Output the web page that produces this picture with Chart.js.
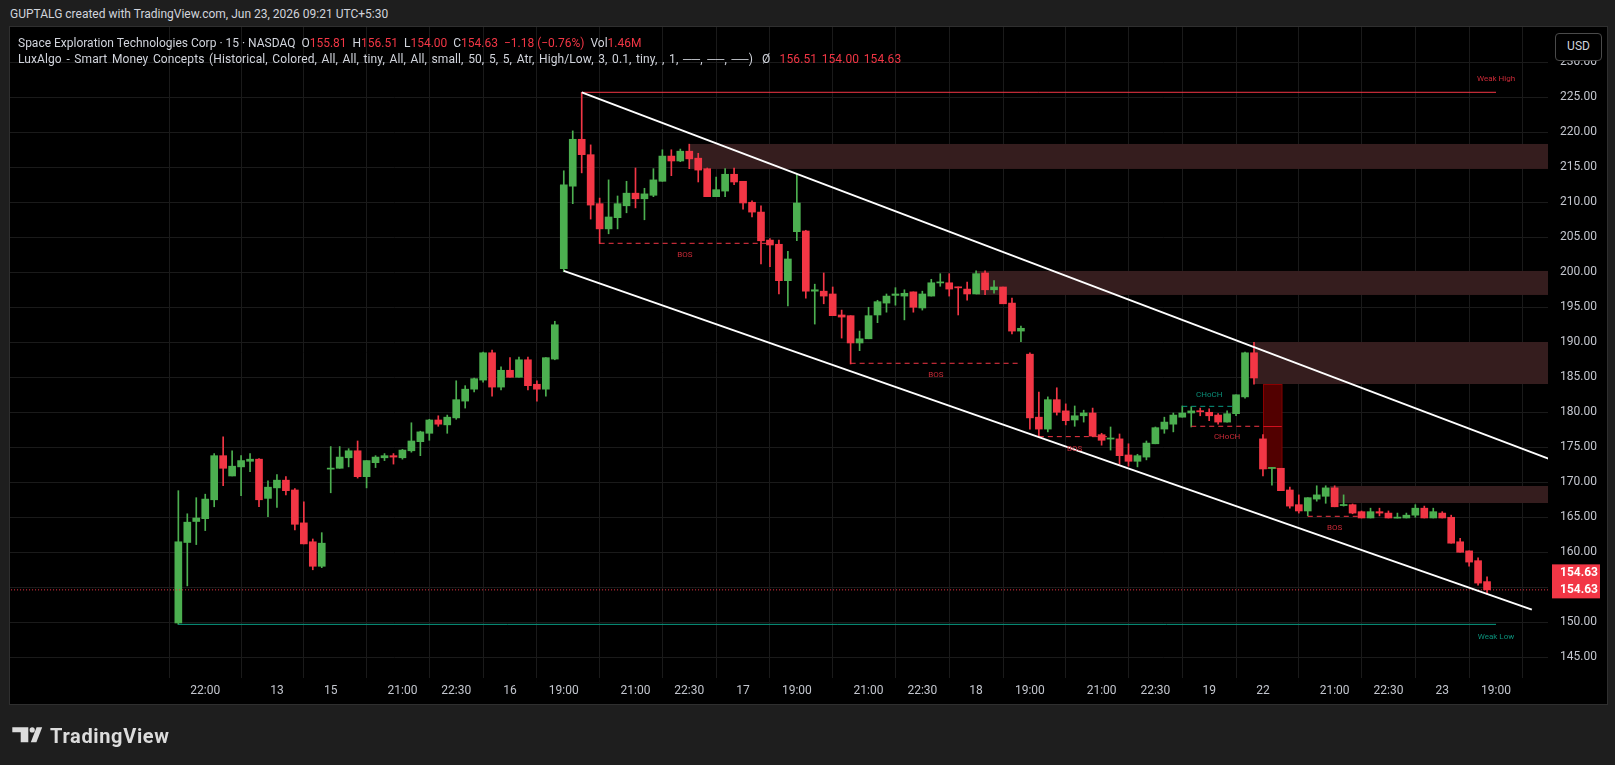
<!DOCTYPE html>
<html>
<head>
<meta charset="utf-8">
<script src="https://cdn.jsdelivr.net/npm/chart.js@4.4.1/dist/chart.umd.min.js"></script>
<style>
html, body { margin: 0; padding: 0; background: #1e1e1e; width: 1615px; height: 765px; overflow: hidden; font-family: Roboto, "Liberation Sans", sans-serif; }
#title { position: absolute; left: 10px; top: 7px; font-size: 12px; color: #d1d4dc; white-space: pre; }
#pane { position: absolute; left: 9px; top: 26px; width: 1597px; height: 677px; border: 1px solid #2f2f2f; background: #000; }
#chart { position: absolute; left: 0; top: 0; }
.legend { position: absolute; left: 8px; font-size: 12px; color: #d1d4dc; white-space: pre; }
.wide { word-spacing: 1.5px; letter-spacing: 0.1px; }
.r { color: #f23645; }
#usd { position: absolute; left: 1545px; top: 6px; width: 45px; height: 26px; border: 1px solid #4a4a4a; border-radius: 4px; background: #000; color: #d1d4dc; font-size: 12px; text-align: center; line-height: 24px; }
#logo { position: absolute; left: 0; top: 690px; }
</style>
</head>
<body>
<div id="title">GUPTALG created with TradingView.com, Jun 23, 2026 09:21 UTC+5:30</div>
<div id="pane">
  <canvas id="chart" width="1597" height="677"></canvas>
  <div class="legend" style="top:9px">Space Exploration Technologies Corp · 15 · NASDAQ  O<span class="r">155.81</span>  H<span class="r">156.51</span>  L<span class="r">154.00</span>  C<span class="r">154.63</span>  <span class="r">−1.18 (−0.76%)</span>  Vol<span class="r">1.46M</span></div>
  <div class="legend wide" style="top:25px">LuxAlgo - Smart Money Concepts (Historical, Colored, All, All, tiny, All, All, small, 50, 5, 5, Atr, High/Low, 3, 0.1, tiny, , 1, ──, ──, ──)  Ø  <span class="r">156.51</span> <span class="r">154.00</span> <span class="r">154.63</span></div>
  <div id="usd">USD</div>
</div>
<svg id="logo" width="300" height="75">
  <path d="M12.3 37.3 H28.3 V52.3 H20.7 V42.3 H12.3 Z" fill="#dcdcdc"/>
  <circle cx="32.2" cy="39.9" r="2.6" fill="#dcdcdc"/>
  <path d="M30.8 52.3 L36.6 37.3 H42.2 L36.4 52.3 Z" fill="#dcdcdc"/>
  <text x="50" y="52.5" font-family="Roboto, sans-serif" font-weight="700" font-size="20" fill="#dcdcdc" textLength="119">TradingView</text>
</svg>
<script>
// 15 min candles, index 0..146
const opens = [149.9,161.4,164.4,164.8,167.5,173.8,170.9,172.2,173.0,173.3,167.7,169.2,170.3,168.9,164.2,161.5,158.0,
  171.9,172.0,173.5,174.5,170.8,172.8,173.5,173.8,173.5,174.5,175.8,177.0,178.9,178.2,179.2,181.6,183.3,184.6,188.5,
  183.6,186.0,185.0,187.5,184.0,183.3,187.6,200.5,212.3,219.0,216.8,209.8,206.2,207.8,209.5,211.3,210.5,211.0,213.0,
  216.6,215.9,217.3,216.3,214.8,210.8,211.6,214.0,213.0,210.0,208.6,204.6,204.0,198.8,205.8,205.9,197.3,197.3,196.9,
  193.9,193.8,189.9,190.5,193.9,195.6,196.7,196.6,197.2,194.9,196.6,198.5,198.5,197.9,197.6,196.9,199.9,197.5,197.9,
  195.6,191.6,188.3,179.3,177.6,181.8,180.2,178.9,179.5,179.9,176.8,176.2,176.2,173.9,173.0,173.6,175.5,177.6,178.3,
  179.3,179.9,180.2,180.0,179.6,178.6,179.8,182.2,188.5,176.2,172.0,172.0,168.9,166.8,165.9,167.6,168.0,169.2,166.7,
  166.8,165.8,164.9,165.8,165.6,164.9,164.9,165.3,166.3,164.9,165.6,165.0,161.5,160.2,158.8,155.81];
const highs = [168.8,165.5,167.8,168.3,174.1,176.5,174.5,173.8,174.1,173.4,170.2,171.1,170.8,169.1,167.2,161.9,162.8,
  175.1,175.1,174.8,175.9,173.1,173.8,174.1,174.1,174.7,178.5,177.3,179.0,179.5,179.6,184.5,183.8,184.9,188.6,188.9,
  186.5,187.8,187.9,187.9,184.5,187.8,193.0,214.5,220.2,225.7,218.2,210.6,213.2,210.9,213.0,214.9,212.0,214.8,217.5,
  217.5,217.6,218.3,217.0,214.9,213.6,214.8,214.9,213.0,210.2,209.5,204.8,204.6,203.0,214.0,206.0,198.3,199.9,197.9,
  194.6,193.8,191.6,195.0,196.0,196.9,197.8,197.5,197.2,197.3,199.0,199.8,199.8,197.9,198.6,200.2,200.2,198.8,197.9,
  196.3,192.3,188.5,182.9,182.2,183.5,181.2,180.9,180.3,180.6,177.0,177.9,176.9,175.5,174.0,175.9,177.9,179.3,179.9,
  180.9,180.8,180.6,180.5,179.8,180.2,182.5,188.6,190.0,176.8,172.1,172.0,169.3,168.2,167.8,169.5,169.5,169.5,168.2,
  166.9,165.9,166.3,166.3,165.9,165.6,165.6,166.8,166.6,166.3,165.8,165.3,162.0,160.2,159.2,156.51];
const lows = [149.7,155.2,161.1,163.1,166.5,169.5,170.9,168.1,171.5,166.5,165.1,166.4,168.2,163.2,161.2,157.5,157.8,
  168.5,172.0,172.2,170.6,169.2,172.1,173.1,172.6,173.3,174.3,173.8,176.0,178.0,177.0,179.0,180.6,182.9,184.3,182.3,
  183.2,185.0,185.0,183.2,181.6,182.3,187.5,200.1,209.8,214.2,207.6,204.1,205.5,206.2,208.5,209.2,207.5,210.8,213.0,
  213.8,215.8,214.8,212.9,210.8,210.8,210.8,212.5,209.0,207.9,201.2,200.8,196.9,195.2,204.5,196.3,192.6,195.5,193.8,
  190.6,186.9,188.8,190.5,192.8,194.3,195.3,193.2,194.3,194.6,196.6,198.0,196.6,193.9,196.0,196.9,196.8,197.0,195.5,
  191.2,190.1,177.6,176.6,177.2,179.6,178.2,178.0,178.6,176.5,175.3,174.6,172.6,172.3,172.2,173.2,175.5,177.0,177.2,
  179.3,177.9,179.5,178.8,178.3,178.6,179.5,182.0,184.0,170.9,169.6,168.8,166.3,165.6,165.2,167.3,167.0,166.5,166.6,
  165.5,164.9,164.9,165.2,164.9,164.9,164.9,165.0,164.9,164.9,164.9,161.3,160.0,158.0,155.3,154.00];
const closes = [161.5,164.3,164.9,167.6,173.8,172.0,172.3,173.1,173.3,167.5,169.3,170.3,168.8,164.0,161.2,158.0,161.3,
  172.0,173.6,174.5,170.8,173.1,173.6,173.8,173.6,174.6,175.9,177.2,178.9,178.3,179.3,181.8,183.3,184.8,188.5,183.6,
  186.0,185.0,187.5,183.8,183.3,187.8,192.5,212.5,219.0,216.8,209.6,206.2,207.9,209.8,211.3,210.5,211.2,213.2,216.6,
  215.9,217.3,216.2,214.6,210.8,211.8,214.0,212.9,209.9,208.6,204.5,203.9,198.8,201.9,209.9,197.3,197.5,196.6,193.8,
  193.6,189.9,190.5,193.8,195.8,196.6,196.9,197.0,195.0,196.9,198.5,198.6,197.6,197.8,196.9,199.8,197.5,197.9,195.5,
  191.6,192.0,179.2,177.6,181.8,180.0,178.8,179.5,179.9,176.6,176.0,176.3,173.8,173.0,173.8,175.6,177.8,178.6,179.6,
  179.9,180.2,180.1,179.5,178.6,179.8,182.5,188.5,184.9,171.9,172.1,168.8,166.6,165.9,167.8,168.2,169.2,166.5,166.8,
  165.6,164.9,165.8,165.6,164.9,165.0,165.3,166.3,164.9,165.8,164.9,161.3,160.0,158.6,155.6,154.63];

// time axis
const tickPos = [3, 11, 17, 25, 31, 37, 43, 51, 57, 63, 69, 77, 83, 89, 95, 103, 109, 115, 121, 129, 135, 141, 147];
const tickLabels = ['22:00','13','15','21:00','22:30','16','19:00','21:00','22:30','17','19:00','21:00','22:30',
  '18','19:00','21:00','22:30','19','22','21:00','22:30','23','19:00'];
const priceTicks = [145,150,155,160,165,170,175,180,185,190,195,200,205,210,215,220,225,230];

// smart money concepts overlay: [fromIndex, toIndex, price]
const channelUpper = [[45, 225.7], [153, 173.3]];
const channelLower = [[43, 200.2], [151, 151.8]];
const weakHigh = [45, 147, 225.71];
const weakLow = [0, 147, 149.7];
const bosLines = [[47, 66, 204.14], [75, 94, 187.0], [96, 104, 176.52], [126, 132, 165.14]];
const chochBull = [112, 118, 180.85];
const chochBear = [113, 121, 178.0];
const zones = [[57, 218.33, 214.76], [89, 200.19, 196.76], [120, 190.04, 184.04], [128.5, 169.47, 167.04]];
const fvg = [121.04, 123.1, 184.04, 172.04];
const lastPrice = 154.63;

const UP = '#4caf50', DOWN = '#f23645';
const idx = opens.map((_, i) => i);
const colors = idx.map(i => closes[i] >= opens[i] ? UP : DOWN);
const bodies = idx.map(i => {
  let lo = Math.min(opens[i], closes[i]), hi = Math.max(opens[i], closes[i]);
  if (hi - lo < 0.15) { const m = (hi + lo) / 2; lo = m - 0.075; hi = m + 0.075; }
  return {x: i, y: [lo, hi]};
});
const wicks = idx.map(i => ({x: i, y: [lows[i], highs[i]]}));

function seg(a, b, y) { return [{x: a, y: y}, {x: b, y: y}]; }
function lineDs(data, color, width, dash) {
  return {type: 'line', data: data, borderColor: color, borderWidth: width, borderDash: dash || [],
    pointRadius: 0, fill: false, order: 1, tension: 0};
}

const datasets = [
  lineDs(channelUpper.map(p => ({x: p[0], y: p[1]})), '#ffffff', 2),
  lineDs(channelLower.map(p => ({x: p[0], y: p[1]})), '#ffffff', 2),
  lineDs(seg(weakHigh[0], weakHigh[1], weakHigh[2]), DOWN, 1),
  lineDs(seg(weakLow[0], weakLow[1], weakLow[2]), '#089981', 1),
  lineDs(seg(-20, 155, lastPrice), DOWN, 1, [1, 2]),
  lineDs(seg(chochBull[0], chochBull[1], chochBull[2]), '#089981', 1, [5, 4]),
  lineDs(seg(chochBear[0], chochBear[1], chochBear[2]), DOWN, 1, [5, 4]),
  ...bosLines.map(b => lineDs(seg(b[0], b[1], b[2]), DOWN, 1, [5, 4])),
  {type: 'bar', data: bodies, backgroundColor: colors, barThickness: 7, grouped: false, order: 2, borderWidth: 0},
  {type: 'bar', data: wicks, backgroundColor: colors, barThickness: 1, grouped: false, order: 3, borderWidth: 0}
];

const overlay = {
  id: 'overlay',
  beforeDatasetsDraw(chart) {
    const {ctx, chartArea: a, scales: {x, y}} = chart;
    ctx.save();
    ctx.beginPath();
    ctx.rect(a.left, a.top, a.right - a.left, a.bottom - a.top);
    ctx.clip();
    ctx.fillStyle = '#351d1e';
    zones.forEach(z => {
      const x0 = x.getPixelForValue(z[0]);
      const y0 = y.getPixelForValue(z[1]), y1 = y.getPixelForValue(z[2]);
      ctx.fillRect(x0, y0, a.right - x0, y1 - y0);
    });
    const fx0 = x.getPixelForValue(fvg[0]), fx1 = x.getPixelForValue(fvg[1]);
    const fy0 = y.getPixelForValue(fvg[2]), fy1 = y.getPixelForValue(fvg[3]);
    ctx.fillStyle = '#520000';
    ctx.fillRect(fx0, fy0, fx1 - fx0, fy1 - fy0);
    ctx.strokeStyle = '#8b0000';
    ctx.lineWidth = 1;
    ctx.strokeRect(Math.round(fx0) + 0.5, Math.round(fy0) + 0.5, fx1 - fx0, fy1 - fy0);
    const fm = Math.round(y.getPixelForValue((fvg[2] + fvg[3]) / 2)) + 0.5;
    ctx.strokeStyle = '#d0101e';
    ctx.beginPath(); ctx.moveTo(fx0, fm); ctx.lineTo(fx1, fm); ctx.stroke();
    ctx.restore();
  },
  afterDatasetsDraw(chart) {
    const {ctx, scales: {x, y}} = chart;
    ctx.save();
    ctx.font = '8px Roboto, sans-serif';
    ctx.textAlign = 'center';
    ctx.textBaseline = 'middle';
    ctx.fillStyle = '#c92a37';
    bosLines.forEach(b => {
      ctx.fillText('BOS', x.getPixelForValue((b[0] + b[1]) / 2), y.getPixelForValue(b[2]) + 12);
    });
    ctx.fillText('CHoCH', x.getPixelForValue((chochBear[0] + chochBear[1]) / 2), y.getPixelForValue(chochBear[2]) + 11);
    ctx.fillText('Weak High', x.getPixelForValue(weakHigh[1]), y.getPixelForValue(weakHigh[2]) - 13);
    ctx.fillStyle = '#0b8f79';
    ctx.fillText('CHoCH', x.getPixelForValue((chochBull[0] + chochBull[1]) / 2), y.getPixelForValue(chochBull[2]) - 11);
    ctx.fillText('Weak Low', x.getPixelForValue(weakLow[1]), y.getPixelForValue(weakLow[2]) + 12.5);
    ctx.restore();
  },
  afterDraw(chart) {
    const {ctx, chartArea: a, scales: {y}} = chart;
    const py = y.getPixelForValue(lastPrice);
    ctx.save();
    ctx.fillStyle = DOWN;
    ctx.fillRect(a.right + 4, py - 25.5, 48, 34);
    ctx.fillStyle = '#ffffff';
    ctx.font = 'bold 12px Roboto, sans-serif';
    ctx.textAlign = 'left';
    ctx.textBaseline = 'middle';
    ctx.fillText(lastPrice.toFixed(2), a.right + 12, py - 17);
    ctx.fillText(lastPrice.toFixed(2), a.right + 12, py);
    ctx.restore();
  }
};

new Chart(document.getElementById('chart'), {
  type: 'bar',
  data: {datasets: datasets},
  plugins: [overlay],
  options: {
    responsive: false,
    animation: false,
    layout: {padding: 0},
    plugins: {legend: {display: false}, tooltip: {enabled: false}},
    scales: {
      x: {
        type: 'linear', min: -18.78, max: 152.8, offset: false,
        grid: {color: '#1a1a1a', drawTicks: false},
        border: {display: false},
        ticks: {color: '#c3c6ce', font: {size: 12, family: 'Roboto'}, padding: 6, maxRotation: 0, autoSkip: false,
          callback: (v, i) => tickLabels[i]},
        afterBuildTicks: s => { s.ticks = tickPos.map(v => ({value: v})); },
        afterFit: s => { s.height = 26; s.paddingLeft = 0; s.paddingRight = 0; }
      },
      y: {
        type: 'linear', position: 'right', min: 142.04, max: 235.04,
        grid: {color: '#1a1a1a', drawTicks: false},
        border: {display: false},
        ticks: {color: '#c3c6ce', font: {size: 12, family: 'Roboto'}, padding: 12, callback: v => v.toFixed(2)},
        afterBuildTicks: s => { s.ticks = priceTicks.map(v => ({value: v})); },
        afterFit: s => { s.width = 59; s.paddingTop = 0; s.paddingBottom = 0; }
      }
    }
  }
});
</script>
</body>
</html>
